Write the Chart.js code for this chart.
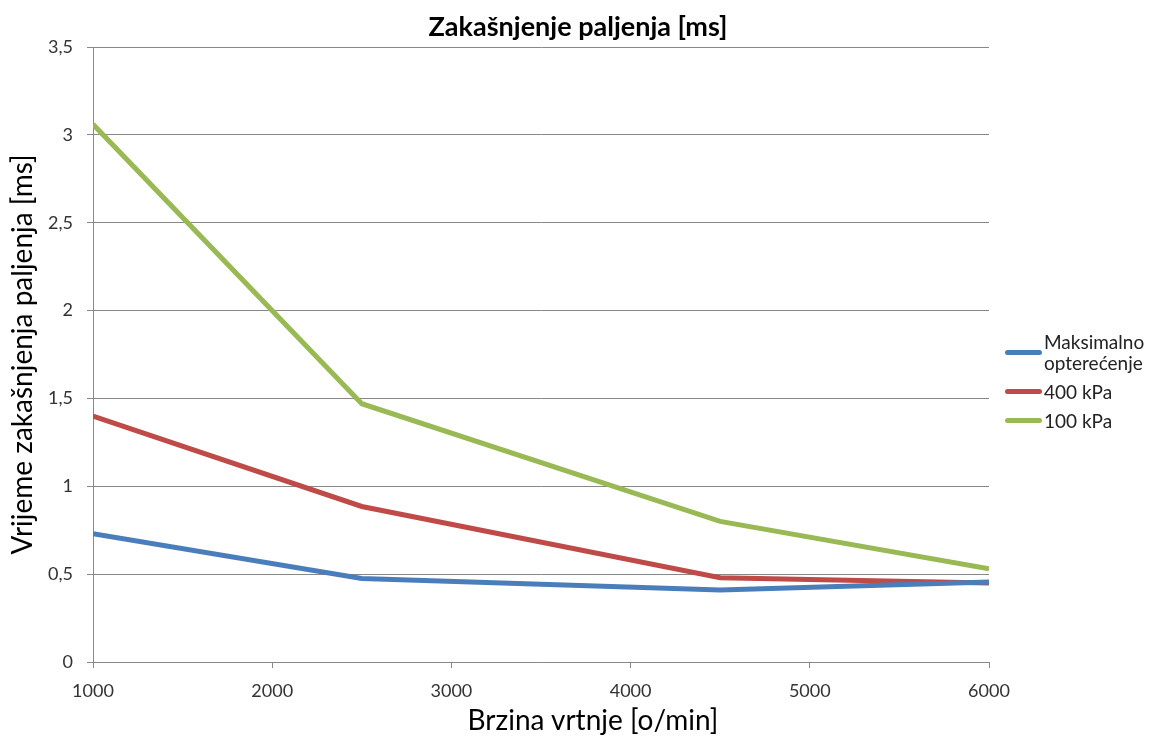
<!DOCTYPE html>
<html>
<head>
<meta charset="utf-8">
<script src="https://cdn.jsdelivr.net/npm/chart.js@4.4.1/dist/chart.umd.min.js"></script>
<style>
  html, body { margin: 0; padding: 0; background: #fff; }
  #wrap { position: relative; width: 1160px; height: 743px; }
  #title { position: absolute; left: 378px; width: 400px; top: 10px; text-align: center; font-family: Lato, sans-serif; font-weight: bold; font-size: 27px; color: #000; line-height: 32px; }
  #xtitle { position: absolute; left: 393px; width: 400px; top: 702px; text-align: center; font-family: Lato, sans-serif; font-size: 28px; color: #000; line-height: 34px; }
  #legend { position: absolute; left: 1005px; top: 331px; font-family: Lato, sans-serif; font-size: 19px; color: #222; }
  .item { display: flex; align-items: center; margin-bottom: 8px; line-height: 21px; }
  .swatch { width: 37px; height: 5px; border-radius: 3px; margin-right: 2px; flex: none; }
</style>
</head>
<body>
<div id="wrap">
  <canvas id="chart" width="1160" height="743"></canvas>
  <div id="title">Zakašnjenje paljenja [ms]</div>
  <div id="xtitle">Brzina vrtnje [o/min]</div>
  <div id="legend"></div>
</div>
<script>
// brzina vrtnje [o/min]
const rpm = [1000, 2500, 4500, 6000];
// zakasnjenje paljenja [ms]
const maxLoad = [0.73, 0.475, 0.41, 0.455];
const kpa400 = [1.40, 0.885, 0.48, 0.45];
const kpa100 = [3.06, 1.47, 0.80, 0.53];

const seriesNames = [['Maksimalno', 'opterećenje'], ['400 kPa'], ['100 kPa']];
const seriesColors = ['#4A7EBB', '#BE4B48', '#98B954'];

function toPoints(values) {
    return rpm.map((x, i) => ({ x: x, y: values[i] }));
}

const datasets = [maxLoad, kpa400, kpa100].map((vals, i) => ({
    label: seriesNames[i].join(' '),
    data: toPoints(vals),
    borderColor: seriesColors[i],
    backgroundColor: seriesColors[i],
    borderWidth: 5,
    pointRadius: 0,
    tension: 0,
    fill: false
}));

const ctx = document.getElementById('chart').getContext('2d');
new Chart(ctx, {
    type: 'line',
    data: { datasets: datasets },
    options: {
        responsive: false,
        animation: false,
        layout: { padding: { left: 0, right: 171, top: 47, bottom: 0 } },
        plugins: {
            legend: { display: false },
            tooltip: { enabled: false }
        },
        scales: {
            x: {
                type: 'linear',
                min: 1000,
                max: 6000,
                ticks: {
                    stepSize: 1000,
                    color: '#333',
                    font: { family: 'Lato', size: 18 },
                    padding: 12,
                    callback: (v) => String(v)
                },
                grid: { drawOnChartArea: false, color: '#888', tickLength: 6 },
                border: { color: '#888' },
                afterFit: (scale) => { scale.height = 81; }
            },
            y: {
                min: 0,
                max: 3.5,
                ticks: {
                    stepSize: 0.5,
                    color: '#333',
                    font: { family: 'Lato', size: 18 },
                    padding: 14,
                    callback: (v) => String(v).replace('.', ',')
                },
                grid: { color: '#888', tickLength: 6 },
                border: { color: '#888' },
                title: {
                    display: true,
                    text: 'Vrijeme zakašnjenja paljenja [ms]',
                    color: '#000',
                    font: { family: 'Lato', size: 28 },
                    padding: { top: 6, bottom: 0 }
                },
                afterFit: (scale) => { scale.width = 93; }
            }
        }
    }
});

// legenda desno
const legend = document.getElementById('legend');
seriesNames.forEach((name, i) => {
    const row = document.createElement('div');
    row.className = 'item';
    const sw = document.createElement('div');
    sw.className = 'swatch';
    sw.style.background = seriesColors[i];
    const txt = document.createElement('div');
    txt.innerHTML = name.join('<br>');
    row.appendChild(sw);
    row.appendChild(txt);
    legend.appendChild(row);
});
</script>
</body>
</html>
